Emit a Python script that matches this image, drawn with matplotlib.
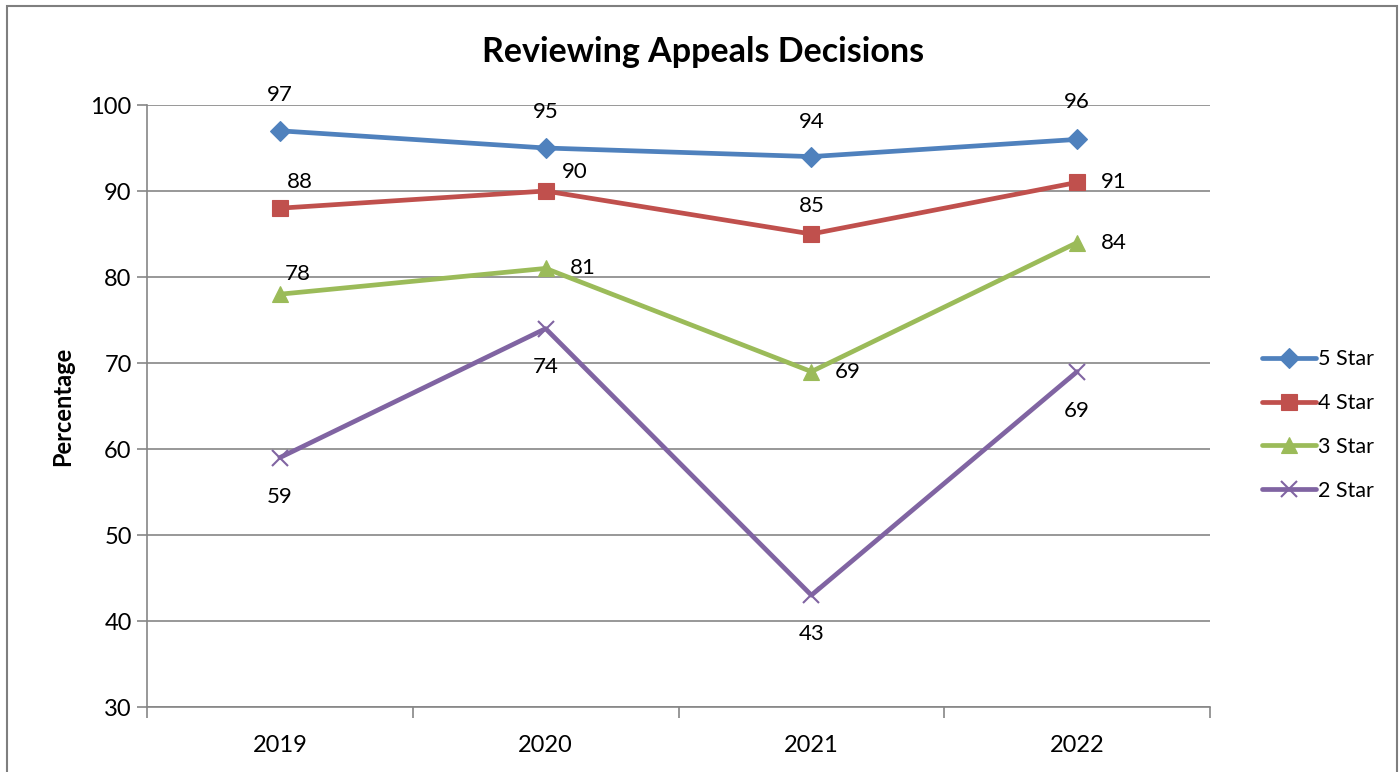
import matplotlib
matplotlib.use("Agg")
import matplotlib.pyplot as plt
from matplotlib.patches import Rectangle

years = ["2019", "2020", "2021", "2022"]
series_names = ["5 Star", "4 Star", "3 Star", "2 Star"]
star5 = [97, 95, 94, 96]
star4 = [88, 90, 85, 91]
star3 = [78, 81, 69, 84]
star2 = [59, 74, 43, 69]
title = "Reviewing Appeals Decisions"
ylabel = "Percentage"

colors = ["#4F81BD", "#C0504D", "#9BBB59", "#8064A2"]
markers = ["D", "s", "^", "x"]
msizes = [10, 12, 12, 12]
# label offsets in pixels (dx, dy up)
offsets = [
    [(0, 36), (0, 36), (0, 35), (0, 37)],
    [(20, 26), (29, 19), (0, 28), (37, 0)],
    [(18, 20), (37, 0), (36, 0), (37, 0)],
    [(0, -39), (0, -38), (0, -39), (0, -39)],
]

plt.rcParams['font.family'] = ['Lato', 'DejaVu Sans']
fig = plt.figure(figsize=(14, 7.72), dpi=100)
W, H = 1400, 772
ax = fig.add_axes([147 / W, 65 / H, (1210 - 147) / W, (707 - 105) / H])

grid_c = "#868686"
x = list(range(len(years)))
for vals, name, c, m, ms, offs in zip([star5, star4, star3, star2], series_names,
                                      colors, markers, msizes, offsets):
    ax.plot(x, vals, color=c, lw=3.4, marker=m, markersize=ms,
            markeredgewidth=1.5 if m == "x" else 0.8, markeredgecolor=c,
            label=name, solid_capstyle="round", zorder=3)
    for xi, v, (dx, dy) in zip(x, vals, offs):
        ax.annotate(str(v), (xi, v), xytext=(dx * 0.72, dy * 0.72),
                    textcoords="offset points", ha="center", va="center",
                    fontsize=16, color="black", zorder=4)

ax.set_xlim(-0.5, 3.5)
ax.set_ylim(30, 100)
ax.set_yticks(range(30, 101, 10))
ax.set_xticks(x)
ax.set_xticklabels(years)
ax.set_xticks([-0.5, 0.5, 1.5, 2.5, 3.5], minor=True)
ax.tick_params(axis="x", which="major", length=0, labelsize=17, pad=20)
ax.tick_params(axis="x", which="minor", length=8, width=1.2, color=grid_c, direction="out")
ax.tick_params(axis="y", length=7, width=1.2, color=grid_c, labelsize=17, pad=4)
ax.yaxis.grid(True, color=grid_c, lw=1.2)
ax.set_axisbelow(True)
for s in ["top", "right"]:
    ax.spines[s].set_visible(False)
for s in ["left", "bottom"]:
    ax.spines[s].set_color(grid_c)
    ax.spines[s].set_linewidth(1.2)

ax.set_ylabel(ylabel, fontsize=17, fontweight="bold", labelpad=12)
fig.text(703 / W, 1 - 52 / H, title, ha="center", va="center",
         fontsize=24.5, fontweight="bold")

leg = fig.legend(loc="center left", bbox_to_anchor=(1243 / W, 1 - 425 / H),
                 frameon=False, fontsize=15.5, handlelength=2.5, handletextpad=0.1,
                 labelspacing=1.1)

fig.patches.append(Rectangle((7 / W, -0.05), (1397 - 7) / W, 1.05 - 6 / H,
                             transform=fig.transFigure, fill=False,
                             edgecolor="#7f7f7f", lw=1.5))

fig.savefig("out.png", dpi=100)
